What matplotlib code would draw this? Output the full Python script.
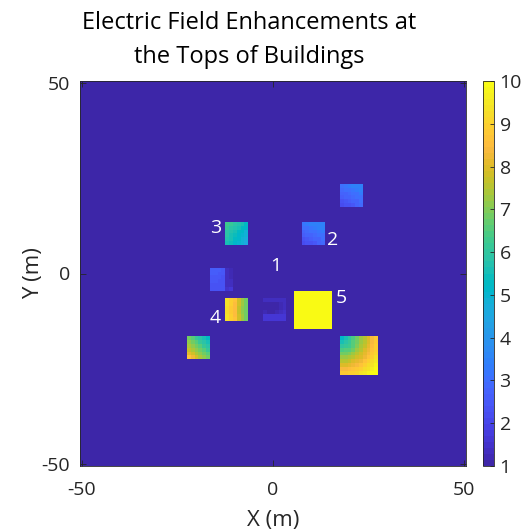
import numpy as np
import matplotlib
matplotlib.use("Agg")
import matplotlib.pyplot as plt
from matplotlib.colors import ListedColormap

plt.rcParams['font.family'] = ['Open Sans', 'DejaVu Sans']
plt.rcParams['axes.unicode_minus'] = False

# ---------------- data ----------------
grid_x = np.arange(-50, 51)          # cell centres (m)
grid_y = np.arange(-50, 51)
background_value = 1.0

# building enhancement values, rows listed from top (north) to bottom
bld_top_right = [
    [3.1, 3.2, 3.3, 3.4, 3.5, 3.5],
    [2.9, 3.0, 3.1, 3.2, 3.3, 3.4],
    [2.7, 2.8, 2.9, 3.0, 3.1, 3.3],
    [2.6, 2.7, 2.8, 2.9, 3.0, 3.1],
    [2.4, 2.5, 2.6, 2.7, 2.8, 3.0],
    [2.2, 2.3, 2.4, 2.5, 2.7, 2.9],
]
bld_2 = [
    [3.2, 3.3, 3.4, 3.5, 3.5, 3.5],
    [3.0, 3.1, 3.2, 3.3, 3.4, 3.4],
    [2.8, 2.9, 3.0, 3.1, 3.2, 3.3],
    [2.6, 2.7, 2.8, 2.9, 3.0, 3.1],
    [2.4, 2.5, 2.6, 2.7, 2.8, 3.0],
    [2.2, 2.3, 2.4, 2.5, 2.7, 2.9],
]
bld_3 = [
    [6.3, 6.1, 5.9, 5.7, 5.5, 5.3],
    [6.1, 5.9, 5.7, 5.5, 5.3, 5.1],
    [5.9, 5.7, 5.5, 5.3, 5.1, 4.9],
    [5.8, 5.6, 5.4, 5.2, 5.0, 4.8],
    [5.7, 5.5, 5.3, 5.1, 4.9, 4.7],
    [5.6, 5.4, 5.2, 5.0, 4.8, 4.6],
]
bld_left = [
    [2.6, 2.6, 2.6, 2.5, 1.3, 1.2],
    [2.6, 2.6, 2.5, 2.5, 1.3, 1.2],
    [2.5, 2.5, 2.5, 2.4, 1.3, 1.2],
    [2.5, 2.5, 2.4, 2.4, 1.3, 1.3],
    [2.4, 2.4, 2.4, 2.4, 1.4, 1.4],
    [2.4, 2.4, 2.4, 2.4, 1.5, 1.6],
]
bld_4 = [
    [9.3, 8.9, 8.6, 7.8, 7.2, 6.9],
    [9.3, 8.9, 8.5, 7.8, 7.2, 6.9],
    [9.2, 8.8, 8.5, 7.7, 7.1, 6.8],
    [9.2, 8.8, 8.5, 7.7, 7.1, 6.8],
    [9.3, 8.9, 8.5, 7.8, 7.2, 6.9],
    [9.3, 8.9, 8.6, 7.8, 7.2, 6.9],
]
bld_1 = [
    [1.3, 1.3, 1.3, 1.3, 1.4, 1.4],
    [1.1, 1.1, 1.1, 1.1, 1.2, 1.4],
    [1.1, 1.0, 1.0, 1.0, 1.2, 1.4],
    [1.2, 1.1, 1.1, 1.2, 1.3, 1.5],
    [1.6, 1.6, 1.6, 1.6, 1.6, 1.6],
    [1.7, 1.7, 1.7, 1.7, 1.7, 1.7],
]
bld_5_value = 10.0
bld_bottom_left = [
    [6.8, 6.5, 6.2, 5.9, 5.6, 5.3],
    [7.1, 6.8, 6.5, 6.2, 5.9, 5.6],
    [7.4, 7.1, 6.8, 6.5, 6.2, 5.9],
    [7.7, 7.4, 7.1, 6.8, 6.5, 6.2],
    [8.1, 7.8, 7.4, 7.1, 6.8, 6.5],
    [8.6, 8.2, 7.8, 7.4, 7.1, 6.8],
]
bld_bottom_right = [
    [5.2, 5.6, 6.0, 6.4, 6.8, 7.2, 7.6, 8.0, 8.4, 8.8],
    [5.6, 5.8, 6.1, 6.5, 6.8, 7.2, 7.6, 8.0, 8.4, 8.8],
    [6.0, 6.1, 6.3, 6.6, 7.0, 7.4, 7.7, 8.1, 8.5, 8.9],
    [6.4, 6.5, 6.6, 6.9, 7.2, 7.5, 7.9, 8.2, 8.6, 9.0],
    [6.8, 6.8, 7.0, 7.2, 7.5, 7.8, 8.1, 8.4, 8.8, 9.1],
    [7.2, 7.2, 7.4, 7.5, 7.8, 8.0, 8.3, 8.6, 9.0, 9.3],
    [7.6, 7.6, 7.7, 7.9, 8.1, 8.3, 8.6, 8.9, 9.2, 9.5],
    [8.0, 8.0, 8.1, 8.2, 8.4, 8.6, 8.9, 9.2, 9.4, 9.8],
    [8.4, 8.4, 8.5, 8.6, 8.8, 9.0, 9.2, 9.4, 9.7, 10.0],
    [8.8, 8.8, 8.9, 9.0, 9.1, 9.3, 9.5, 9.8, 10.0, 10.0],
]

label_text = ["1", "2", "3", "4", "5"]

# ---------------- layout (positions: west x, south y in m) ----------------
placements = [
    (bld_top_right, 18, 18),
    (bld_2, 8, 8),
    (bld_3, -12, 8),
    (bld_left, -16, -4),
    (bld_4, -12, -12),
    (bld_1, -2, -12),
    (np.full((10, 10), bld_5_value), 6, -14),
    (bld_bottom_left, -22, -22),
    (bld_bottom_right, 18, -26),
]
label_pos = [(0.8, 2.0), (15.5, 8.8), (-15.0, 12.0), (-15.0, -11.8), (17.8, -6.5)]

field = np.full((len(grid_y), len(grid_x)), background_value)
for mat, x0, y0 in placements:
    m = np.flipud(np.asarray(mat, dtype=float))
    r0 = y0 - grid_y[0]
    c0 = x0 - grid_x[0]
    field[r0:r0 + m.shape[0], c0:c0 + m.shape[1]] = m

parula = [
    [0.2422, 0.1504, 0.6603], [0.2504, 0.1650, 0.7076], [0.2578, 0.1818, 0.7511],
    [0.2647, 0.1978, 0.7952], [0.2706, 0.2147, 0.8364], [0.2751, 0.2342, 0.8710],
    [0.2783, 0.2559, 0.8991], [0.2803, 0.2782, 0.9221], [0.2813, 0.3006, 0.9414],
    [0.2810, 0.3228, 0.9579], [0.2795, 0.3447, 0.9717], [0.2760, 0.3667, 0.9829],
    [0.2699, 0.3892, 0.9906], [0.2602, 0.4123, 0.9952], [0.2440, 0.4358, 0.9988],
    [0.2206, 0.4603, 0.9973], [0.1963, 0.4847, 0.9892], [0.1834, 0.5074, 0.9798],
    [0.1786, 0.5289, 0.9682], [0.1764, 0.5499, 0.9520], [0.1687, 0.5703, 0.9359],
    [0.1540, 0.5902, 0.9218], [0.1460, 0.6091, 0.9079], [0.1380, 0.6276, 0.8973],
    [0.1248, 0.6459, 0.8883], [0.1113, 0.6635, 0.8763], [0.0952, 0.6798, 0.8598],
    [0.0689, 0.6948, 0.8394], [0.0297, 0.7082, 0.8163], [0.0036, 0.7203, 0.7917],
    [0.0067, 0.7312, 0.7660], [0.0433, 0.7411, 0.7394], [0.0964, 0.7500, 0.7120],
    [0.1408, 0.7584, 0.6842], [0.1717, 0.7670, 0.6554], [0.1938, 0.7758, 0.6251],
    [0.2161, 0.7843, 0.5923], [0.2470, 0.7918, 0.5567], [0.2906, 0.7973, 0.5188],
    [0.3406, 0.8008, 0.4789], [0.3909, 0.8029, 0.4354], [0.4456, 0.8024, 0.3909],
    [0.5044, 0.7993, 0.3480], [0.5616, 0.7942, 0.3045], [0.6174, 0.7876, 0.2612],
    [0.6720, 0.7793, 0.2227], [0.7242, 0.7698, 0.1910], [0.7738, 0.7598, 0.1646],
    [0.8203, 0.7498, 0.1535], [0.8634, 0.7406, 0.1596], [0.9035, 0.7330, 0.1774],
    [0.9393, 0.7288, 0.2100], [0.9728, 0.7298, 0.2394], [0.9956, 0.7434, 0.2371],
    [0.9970, 0.7659, 0.2199], [0.9952, 0.7893, 0.2028], [0.9892, 0.8136, 0.1885],
    [0.9786, 0.8386, 0.1766], [0.9676, 0.8639, 0.1643], [0.9610, 0.8890, 0.1537],
    [0.9597, 0.9135, 0.1423], [0.9628, 0.9373, 0.1265], [0.9691, 0.9606, 0.1064],
    [0.9769, 0.9839, 0.0805],
]
cmap = ListedColormap(parula)

W, H = 524, 531
fig = plt.figure(figsize=(W / 100, H / 100), dpi=100)
ax = fig.add_axes([80 / W, 1 - 466 / H, 386 / W, 385 / H])
cax = fig.add_axes([483 / W, 1 - 466 / H, 11 / W, 385 / H])

dx = 0.5
im = ax.imshow(field, origin='lower', cmap=cmap, vmin=1, vmax=10,
               extent=[grid_x[0] - dx, grid_x[-1] + dx, grid_y[0] - dx, grid_y[-1] + dx],
               interpolation='nearest', aspect='auto')
ax.set_xlim(grid_x[0] - dx, grid_x[-1] + dx)
ax.set_ylim(grid_y[0] - dx, grid_y[-1] + dx)
ax.set_xticks([-50, 0, 50])
ax.set_yticks([-50, 0, 50])
ax.tick_params(direction='in', length=4, width=0.6, color='#262626',
               labelsize=14, labelcolor='#262626', top=True, right=True)
ax.tick_params(axis='x', pad=11)
ax.tick_params(axis='y', pad=7)
for s in ax.spines.values():
    s.set_color('#262626')
    s.set_linewidth(0.6)

for t, (lx, ly) in zip(label_text, label_pos):
    ax.text(lx, ly, t, color='white', fontsize=14, ha='center', va='center')

ax.set_xlabel('X (m)', fontsize=16, color='#262626', labelpad=8)
ax.set_ylabel('Y (m)', fontsize=16, color='#262626', labelpad=-2)
fig.text(249 / W, 1 - 40 / H, 'Electric Field Enhancements at\nthe Tops of Buildings',
         fontsize=17, color='black', ha='center', va='center', linespacing=1.55)

cb = fig.colorbar(im, cax=cax, ticks=np.arange(1, 11))
cb.ax.tick_params(direction='in', length=3, width=0.6, color='#262626',
                  labelsize=14, labelcolor='#262626', pad=4)
cb.outline.set_edgecolor('#262626')
cb.outline.set_linewidth(0.6)

fig.savefig('out.png', dpi=100)
